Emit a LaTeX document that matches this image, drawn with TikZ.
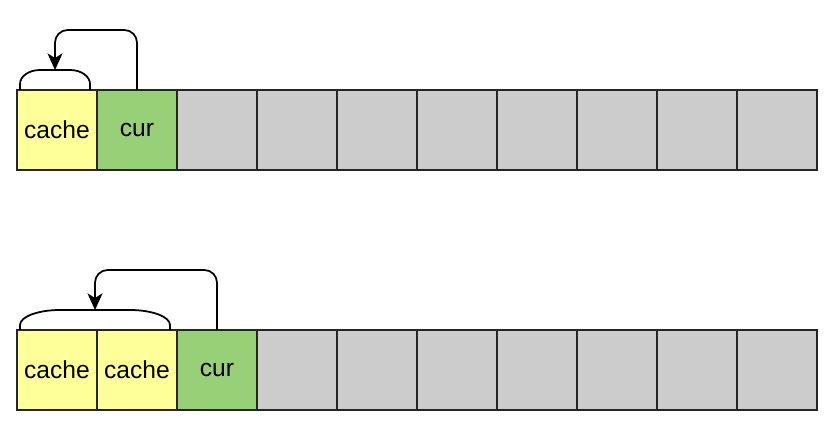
\documentclass[tikz,border=0pt]{standalone}
\usepackage{fontspec}
\setmainfont{Liberation Sans}
\usetikzlibrary{arrows.meta}
\definecolor{cacheY}{HTML}{FFFF99}
\definecolor{curG}{HTML}{97D077}
\definecolor{cellG}{HTML}{CCCCCC}
\begin{document}
\begin{tikzpicture}[x=0.03cm,y=-0.03cm,
  cell/.style={draw=black!85,line width=1.5pt,minimum size=2.4cm,inner sep=0pt,outer sep=0pt,
    font=\fontsize{21}{25}\selectfont,fill=cellG},
  cachecell/.style={cell,fill=cacheY},
  curcell/.style={cell,fill=curG},
  link/.style={draw=black,line width=1.5pt},
  jump/.style={link,rounded corners=0.38cm,-{Stealth[length=0.5cm,width=0.45cm,inset=0.14cm]}}]
\useasboundingbox (0,0) rectangle (834,428);
% top row
\node[cachecell] (t0) at (57,130) {cache};
\node[curcell] (t1) at (137,130) {cur};
\foreach \i in {2,...,9} \node[cell] (t\i) at (57+80*\i,130) {};
% bottom row
\node[cachecell] (b0) at (57,370) {cache};
\node[cachecell] (b1) at (137,370) {cache};
\node[curcell] (b2) at (217,370) {cur};
\foreach \i in {3,...,9} \node[cell] (b\i) at (57+80*\i,370) {};
% top bracket and arrow
\coordinate (tb) at (55,70);
\draw[link] ([xshift=0.09cm]t0.north west) -- ++(0,-6)
  arc[start angle=180,end angle=90,x radius=0.6cm,y radius=0.42cm]
  -- ++(30,0)
  arc[start angle=90,end angle=0,x radius=0.6cm,y radius=0.42cm]
  -- ([xshift=-0.21cm]t0.north east);
\draw[jump] (t1.north) -- ++(0,-60) -| (tb);
% bottom bracket and arrow
\coordinate (bb) at (95,310);
\draw[link] ([xshift=0.09cm]b0.north west) -- ++(0,-5)
  arc[start angle=180,end angle=90,x radius=1.2cm,y radius=0.45cm]
  -- ++(70,0)
  arc[start angle=90,end angle=0,x radius=1.2cm,y radius=0.45cm]
  -- ([xshift=-0.21cm]b1.north east);
\draw[jump] (b2.north) -- ++(0,-60) -| (bb);
\end{tikzpicture}
\end{document}
